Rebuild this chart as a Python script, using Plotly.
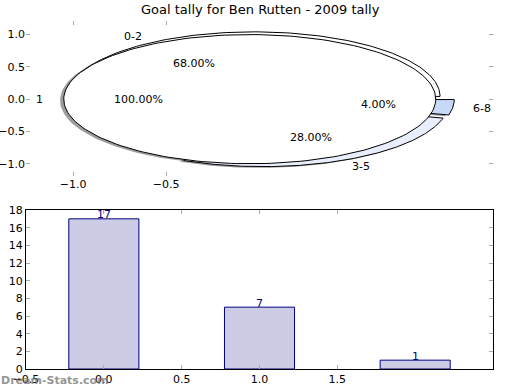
import numpy as np
import plotly.graph_objects as go

# ---------------- data ----------------
title_text = "Goal tally for Ben Rutten - 2009 tally"
pie_labels = ["0-2", "3-5", "6-8"]
pie_values = [17, 7, 1]
pie_explode = [0.05, 0.05, 0.05]
pie_colors = ["#ffffff", "#e8eefc", "#c6d9f7"]

total_labels = ["1"]
total_values = [1]
total_explode = [0.05]
total_colors = ["#ffffff"]

bar_cats = [0, 1, 2]
bar_values = [17, 7, 1]

pie_xticks = [-1.0, -0.5]
pie_xticktext = ["\u22121.0", "\u22120.5"]
pie_yticks = [-1.0, -0.5, 0.0, 0.5, 1.0]
pie_yticktext = ["\u22121.0", "\u22120.5", "0.0", "0.5", "1.0"]

bar_xticks = [-0.5, 0.0, 0.5, 1.0, 1.5]
bar_xticktext = ["\u22120.5", "0.0", "0.5", "1.0", "1.5"]
bar_yticks = [0, 2, 4, 6, 8, 10, 12, 14, 16, 18]

FONT = "DejaVu Sans"
fig = go.Figure()


def wedge_path(cx, cy, t1, t2, full=False, n=200):
    th = np.radians(np.linspace(t1, t2, n))
    xs = list(cx + np.cos(th))
    ys = list(cy + np.sin(th))
    if not full:
        xs = [cx] + xs + [cx]
        ys = [cy] + ys + [cy]
    return xs, ys


def pie_geometry(values, explode):
    tot = float(sum(values))
    out = []
    start = 0.0
    for v, e in zip(values, explode):
        frac = v / tot
        t1 = start * 360
        t2 = (start + frac) * 360
        mid = np.radians((t1 + t2) / 2)
        cx, cy = e * np.cos(mid), e * np.sin(mid)
        out.append((frac, t1, t2, mid, cx, cy))
        start += frac
    return out


geomA = pie_geometry(pie_values, pie_explode)
geomB = pie_geometry(total_values, total_explode)

# shadows (drawn below all wedges)
for (frac, t1, t2, mid, cx, cy), col in list(zip(geomA, pie_colors)) + list(zip(geomB, total_colors)):
    xs, ys = wedge_path(cx - 0.02, cy - 0.02, t1, t2, full=(frac >= 0.9999))
    fig.add_trace(go.Scatter(x=xs, y=ys, mode="lines", fill="toself",
                             fillcolor="rgba(77,77,80,0.55)", line=dict(width=0),
                             hoverinfo="skip", showlegend=False, xaxis="x", yaxis="y"))

# wedges
for (frac, t1, t2, mid, cx, cy), col in list(zip(geomA, pie_colors)) + list(zip(geomB, total_colors)):
    xs, ys = wedge_path(cx, cy, t1, t2, full=(frac >= 0.9999))
    fig.add_trace(go.Scatter(x=xs, y=ys, mode="lines", fill="toself",
                             fillcolor=col, line=dict(color="black", width=1),
                             hoverinfo="skip", showlegend=False, xaxis="x", yaxis="y"))

annotations = []
for geom, labs in ((geomA, pie_labels), (geomB, total_labels)):
    for (frac, t1, t2, mid, cx, cy), lab in zip(geom, labs):
        lx = cx + 1.1 * np.cos(mid)
        ly = cy + 1.1 * np.sin(mid)
        annotations.append(dict(x=lx, y=ly, xref="x", yref="y", text=lab, showarrow=False,
                                xanchor="right" if lx < 0 else "left", yanchor="middle",
                                font=dict(family=FONT, size=11, color="black")))
        px = cx + 0.6 * np.cos(mid)
        py = cy + 0.6 * np.sin(mid)
        annotations.append(dict(x=px, y=py, xref="x", yref="y", text="%.2f%%" % (frac * 100),
                                showarrow=False, xanchor="center", yanchor="middle",
                                font=dict(family=FONT, size=11, color="black")))

# bars
fig.add_trace(go.Bar(x=bar_cats, y=bar_values, width=0.45,
                     marker=dict(color="#ccccE6", line=dict(color="#000080", width=1)),
                     hoverinfo="skip", showlegend=False, xaxis="x2", yaxis="y2"))
for c, v in zip(bar_cats, bar_values):
    annotations.append(dict(x=c, y=v, xref="x2", yref="y2", text=str(v), showarrow=False,
                            xanchor="center", yanchor="middle", yshift=4,
                            font=dict(family=FONT, size=11, color="#000080")))

annotations.append(dict(x=0.5, y=0.999, xref="paper", yref="paper", text=title_text,
                        showarrow=False, xanchor="center", yanchor="top",
                        font=dict(family=FONT, size=13, color="black")))
annotations.append(dict(x=-0.002, y=0.025, xref="paper", yref="paper", text="<b>Dream-Stats.com</b>",
                        showarrow=False, xanchor="left", yanchor="middle",
                        font=dict(family=FONT, size=11, color="rgba(120,120,120,0.8)")))

tickfont = dict(family=FONT, size=11, color="black")
fig.update_layout(
    width=520, height=390,
    margin=dict(l=0, r=0, t=0, b=0),
    paper_bgcolor="white", plot_bgcolor="white",
    annotations=annotations,
    xaxis=dict(domain=[26 / 520, 493 / 520], range=[-1.253, 1.258], anchor="y",
               tickvals=pie_xticks, ticktext=pie_xticktext, ticks="inside", ticklen=4,
               tickcolor="#aaaaaa", showgrid=False, zeroline=False, showline=False,
               mirror="ticks", tickfont=tickfont, fixedrange=True, automargin=False),
    yaxis=dict(domain=[(390 - 176) / 390, (390 - 21) / 390], range=[-1.19, 1.21], anchor="x",
               tickvals=pie_yticks, ticktext=pie_yticktext, ticks="inside", ticklen=4,
               tickcolor="#aaaaaa", showgrid=False, zeroline=False, showline=False,
               mirror="ticks", tickfont=tickfont, fixedrange=True, automargin=False),
    xaxis2=dict(domain=[26 / 520, 493 / 520], range=[-0.5, 2.5], anchor="y2",
                tickvals=bar_xticks, ticktext=bar_xticktext, ticks="inside", ticklen=4,
                tickcolor="#aaaaaa", showgrid=False, zeroline=False, showline=True,
                linecolor="black", linewidth=1, mirror="ticks", tickfont=tickfont,
                automargin=False),
    yaxis2=dict(domain=[(390 - 369) / 390, (390 - 210) / 390], range=[0, 18], anchor="x2",
                tickvals=bar_yticks, ticks="inside", ticklen=4,
                tickcolor="#aaaaaa", showgrid=False, zeroline=False, showline=True,
                linecolor="black", linewidth=1, mirror="ticks", tickfont=tickfont,
                automargin=False),
)

fig.write_html("out.html", config={"displayModeBar": False},
               post_script="document.body.style.margin='0';document.body.style.overflow='hidden';")
